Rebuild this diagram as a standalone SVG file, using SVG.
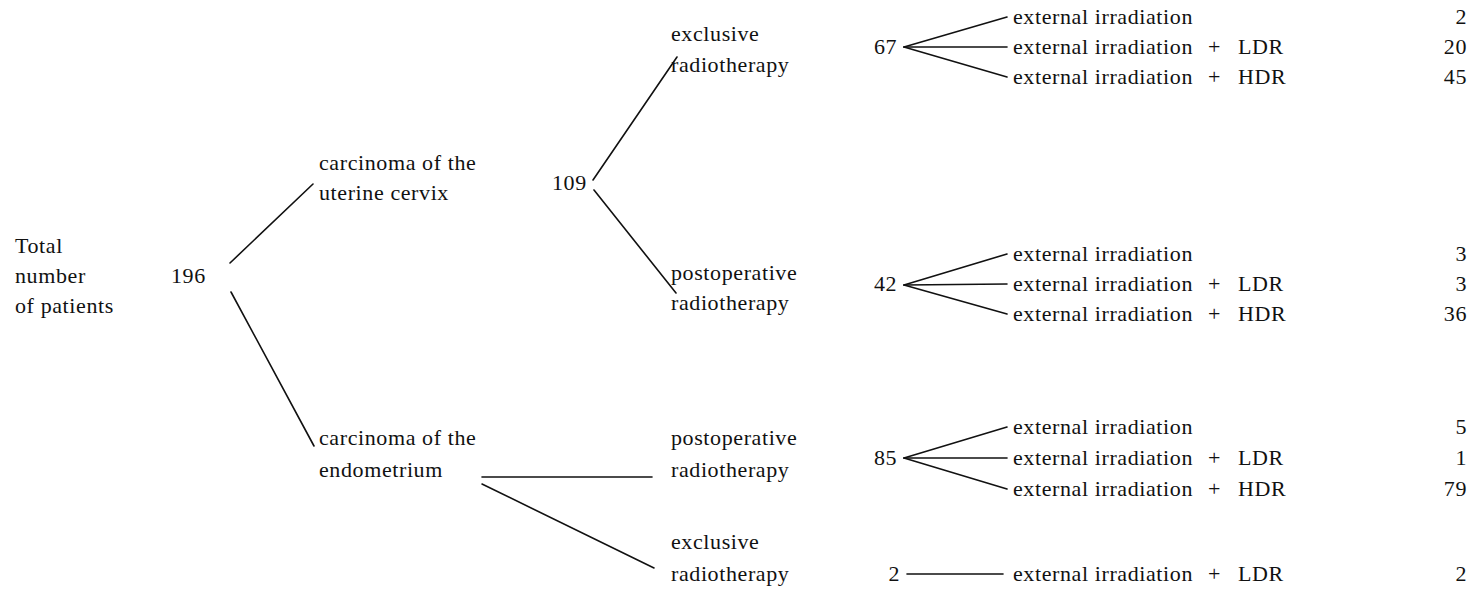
<svg xmlns="http://www.w3.org/2000/svg" width="1479" height="602" viewBox="0 0 1479 602">
<style>
text{font-family:"Liberation Serif","Times New Roman",serif;font-size:22px;fill:#111;letter-spacing:0.6px}
.n{text-anchor:end}
line{stroke:#111;stroke-width:1.6;stroke-linecap:round}
</style>
<rect width="1479" height="602" fill="#fff"/>
<g id="connectors">
<line x1="230" y1="263" x2="313" y2="184"/>
<line x1="231" y1="292" x2="314" y2="446"/>
<line x1="593" y1="180" x2="677" y2="57"/>
<line x1="594" y1="190" x2="676" y2="293"/>
<line x1="904" y1="47" x2="1007" y2="17"/>
<line x1="904" y1="47" x2="1007" y2="47"/>
<line x1="904" y1="47" x2="1007" y2="77"/>
<line x1="904" y1="285" x2="1007" y2="254"/>
<line x1="904" y1="285" x2="1007" y2="284"/>
<line x1="904" y1="285" x2="1007" y2="314"/>
<line x1="904" y1="458" x2="1007" y2="427"/>
<line x1="904" y1="458" x2="1007" y2="458"/>
<line x1="904" y1="458" x2="1007" y2="489"/>
<line x1="907" y1="574" x2="1003" y2="574"/>
<line x1="482" y1="477" x2="652" y2="477"/>
<line x1="482" y1="484" x2="654" y2="568"/>
</g>
<g id="root"><text x="15" y="253">Total</text><text x="15" y="283">number</text><text x="15" y="313">of patients</text><text x="171" y="283">196</text></g>
<g id="cervix"><text x="319" y="170">carcinoma of the</text><text x="319" y="200">uterine cervix</text><text x="552" y="190">109</text></g>
<g id="cervix-excl"><text x="671" y="41">exclusive</text><text x="671" y="72">radiotherapy</text><text x="874" y="54">67</text></g>
<g id="cervix-excl-leaves">
<text x="1013" y="24">external irradiation</text><text class="n" x="1467" y="24">2</text>
<text x="1013" y="54">external irradiation<tspan x="1208">+</tspan><tspan x="1238">LDR</tspan></text><text class="n" x="1467" y="54">20</text>
<text x="1013" y="84">external irradiation<tspan x="1208">+</tspan><tspan x="1238">HDR</tspan></text><text class="n" x="1467" y="84">45</text>
</g>
<g id="cervix-postop"><text x="671" y="280">postoperative</text><text x="671" y="310">radiotherapy</text><text x="874" y="291">42</text></g>
<g id="cervix-postop-leaves">
<text x="1013" y="261">external irradiation</text><text class="n" x="1467" y="261">3</text>
<text x="1013" y="291">external irradiation<tspan x="1208">+</tspan><tspan x="1238">LDR</tspan></text><text class="n" x="1467" y="291">3</text>
<text x="1013" y="321">external irradiation<tspan x="1208">+</tspan><tspan x="1238">HDR</tspan></text><text class="n" x="1467" y="321">36</text>
</g>
<g id="endometrium"><text x="319" y="445">carcinoma of the</text><text x="319" y="477">endometrium</text></g>
<g id="endo-postop"><text x="671" y="445">postoperative</text><text x="671" y="477">radiotherapy</text><text x="874" y="465">85</text></g>
<g id="endo-postop-leaves">
<text x="1013" y="434">external irradiation</text><text class="n" x="1467" y="434">5</text>
<text x="1013" y="465">external irradiation<tspan x="1208">+</tspan><tspan x="1238">LDR</tspan></text><text class="n" x="1467" y="465">1</text>
<text x="1013" y="496">external irradiation<tspan x="1208">+</tspan><tspan x="1238">HDR</tspan></text><text class="n" x="1467" y="496">79</text>
</g>
<g id="endo-excl"><text x="671" y="549">exclusive</text><text x="671" y="581">radiotherapy</text><text class="n" x="900" y="581">2</text></g>
<g id="endo-excl-leaves">
<text x="1013" y="581">external irradiation<tspan x="1208">+</tspan><tspan x="1238">LDR</tspan></text><text class="n" x="1467" y="581">2</text>
</g>
</svg>
